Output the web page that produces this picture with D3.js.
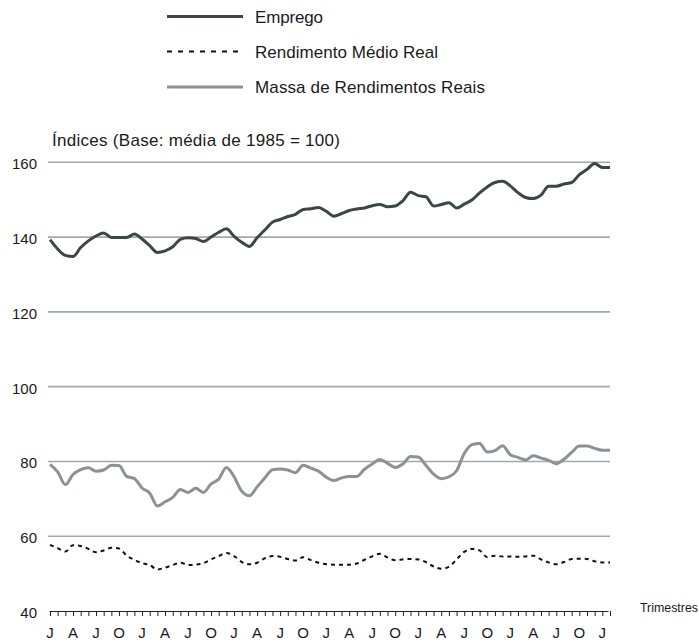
<!DOCTYPE html>
<html><head><meta charset="utf-8">
<script src="https://cdn.jsdelivr.net/npm/d3@7"></script>
<style>body{margin:0;background:#fff;} svg{display:block;font-family:"Liberation Sans",Arial,sans-serif;}</style>
</head><body>
<svg id="c" width="699" height="644"></svg>
<script>
const monthLetters = ["J","A","J","O"];
const emprego = [139.3,136.8,135.1,134.8,137.2,139.0,140.3,141.1,139.9,139.9,139.9,140.8,139.5,137.7,135.9,136.3,137.4,139.4,139.8,139.6,138.8,140.0,141.3,142.2,140.2,138.6,137.5,139.8,141.9,144.0,144.7,145.5,146.1,147.4,147.6,147.9,146.9,145.6,146.3,147.1,147.5,147.8,148.4,148.7,148.1,148.3,149.7,152.0,151.1,150.8,148.3,148.7,149.2,147.8,148.8,149.9,151.8,153.4,154.6,154.9,153.7,151.9,150.6,150.3,151.2,153.6,153.6,154.2,154.6,156.7,158.1,159.7,158.6,158.6];
const rendimento = [57.7,56.8,55.9,57.6,57.4,56.6,55.7,56.2,56.9,56.7,54.8,53.7,52.8,52.3,51.1,51.6,52.3,52.9,52.3,52.4,52.8,53.8,54.7,55.5,54.7,53.1,52.5,52.9,54.1,54.7,54.5,53.9,53.5,54.4,53.6,52.9,52.5,52.4,52.4,52.4,52.7,53.7,54.6,55.3,54.3,53.6,53.8,53.9,53.8,53.1,51.9,51.3,51.8,53.8,55.8,56.6,56.2,54.4,54.8,54.6,54.6,54.5,54.6,54.8,53.8,53.0,52.5,53.1,53.9,54.0,53.9,53.3,53.0,53.0];
const massa = [79.2,77.2,73.8,76.5,77.8,78.3,77.4,77.7,79.0,78.9,76.0,75.4,72.9,71.5,68.1,69.2,70.4,72.5,71.7,72.8,71.7,74.0,75.3,78.4,75.9,72.0,70.8,73.2,75.6,77.8,78.0,77.7,77.0,79.0,78.2,77.4,75.8,74.9,75.6,76.0,76.0,77.9,79.3,80.5,79.5,78.4,79.3,81.3,81.2,79.0,76.6,75.4,75.9,77.5,82.1,84.5,84.8,82.5,82.9,84.2,81.8,81.1,80.4,81.5,80.9,80.3,79.4,80.6,82.4,84.1,84.1,83.5,83.0,83.0];
const yTicks = [40,60,80,100,120,140,160];
const seriesNames = ["Emprego","Rendimento Médio Real","Massa de Rendimentos Reais"];

const svg = d3.select("#c");
const n = emprego.length;
const x = d3.scaleLinear().domain([0, n-1]).range([50, 610]);
const y = d3.scaleLinear().domain([40, 160]).range([611, 162.3]);

const darkC = "#3c4646", grayC = "#8b9297", gridC = "#a3a8ac", textC = "#1a1a1a";

// gridlines
svg.append("g").selectAll("line").data(yTicks.filter(v=>v>40)).join("line")
  .attr("x1", 48).attr("x2", 610).attr("y1", d=>y(d)).attr("y2", d=>y(d))
  .attr("stroke", gridC).attr("stroke-width", 1.6);

// y labels
svg.append("g").selectAll("text").data(yTicks).join("text")
  .attr("x", 37).attr("y", d=>y(d)+7).attr("text-anchor","end")
  .attr("font-size", 15).attr("fill",textC).text(d=>d);

// x axis
const idx = d3.range(n);
const xAxis = d3.axisBottom(x).tickValues(idx).tickSize(5).tickFormat("");
const gx = svg.append("g").attr("transform", `translate(0,${y(40)})`).call(xAxis);
gx.select(".domain").attr("stroke","#222").attr("d", `M49.5,0.5H608.5`);
gx.selectAll(".tick line").attr("stroke","#222");
svg.append("g").selectAll("text").data(idx.filter(i=>i%3===0)).join("text")
  .attr("x", d=>x(d)).attr("y", 638).attr("text-anchor","middle")
  .attr("font-size", 15).attr("fill",textC).text(d=>monthLetters[(d/3)%4]);

svg.append("text").attr("x", 640).attr("y", 612).attr("font-size", 12.5)
  .attr("fill",textC).attr("textLength", 58).attr("lengthAdjust","spacingAndGlyphs").text("Trimestres");

svg.append("text").attr("x", 52).attr("y", 146).attr("font-size", 17)
  .attr("fill",textC).attr("textLength", 288).text("Índices (Base: média de 1985 = 100)");

const line = d3.line().x((d,i)=>x(i)).y(d=>y(d)).curve(d3.curveMonotoneX);
svg.append("path").attr("d", line(massa)).attr("fill","none").attr("stroke", grayC).attr("stroke-width", 3);
svg.append("path").attr("d", line(rendimento)).attr("fill","none").attr("stroke", "#111").attr("stroke-width", 2).attr("stroke-dasharray","4,4");
svg.append("path").attr("d", line(emprego)).attr("fill","none").attr("stroke", darkC).attr("stroke-width", 3);

// legend
const legY = [16.5, 51.5, 87];
const legW = [68, 183, 230];
const legStyles = [
  {stroke: darkC, w: 3, dash: null},
  {stroke: "#111", w: 2, dash: "5,6"},
  {stroke: grayC, w: 3, dash: null}
];
const lg = svg.append("g");
seriesNames.forEach((s, k) => {
  lg.append("line").attr("x1", 167).attr("x2", 243).attr("y1", legY[k]).attr("y2", legY[k])
    .attr("stroke", legStyles[k].stroke).attr("stroke-width", legStyles[k].w)
    .attr("stroke-dasharray", legStyles[k].dash);
  lg.append("text").attr("x", 255).attr("y", legY[k]+6).attr("font-size", 17)
    .attr("fill",textC).attr("textLength", legW[k]).text(s);
});
</script>
</body></html>
